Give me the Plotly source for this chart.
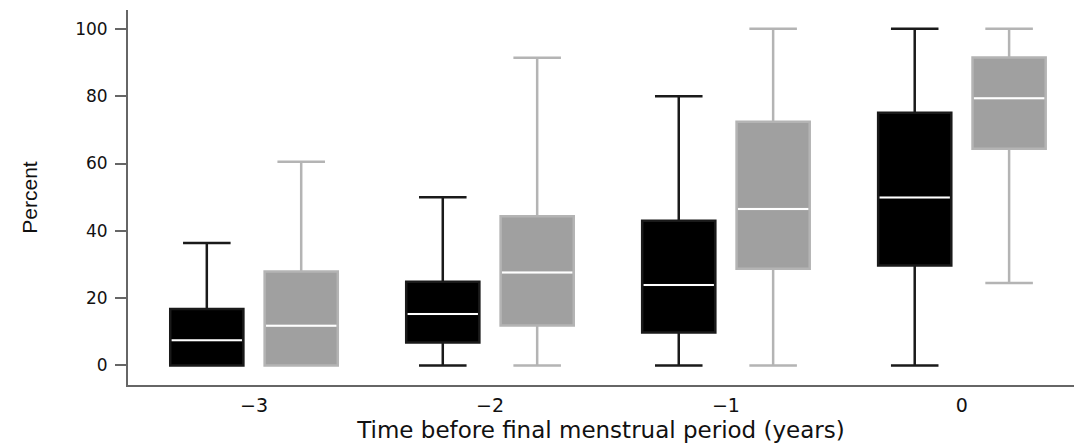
import plotly.graph_objects as go

# Years before the final menstrual period
years = ["\u22123", "\u22122", "\u22121", "0"]

# Summary statistics, series A (black)
a_low = [0, 0, 0, 0]
a_q1 = [0, 6.8, 9.8, 29.7]
a_med = [7.5, 15.3, 23.9, 49.9]
a_q3 = [16.8, 24.9, 43.0, 75.1]
a_high = [36.4, 50, 80, 100]

# Summary statistics, series B (grey)
b_low = [0, 0, 0, 24.5]
b_q1 = [0, 11.9, 28.7, 64.4]
b_med = [11.8, 27.6, 46.5, 79.4]
b_q3 = [27.9, 44.3, 72.4, 91.5]
b_high = [60.5, 91.4, 100, 100]

pos = list(range(len(years)))
offset = 0.2
box_w = 0.31

series = [
    (a_low, a_q1, a_med, a_q3, a_high, -offset, "#000000", "#1a1a1a"),
    (b_low, b_q1, b_med, b_q3, b_high, offset, "#a0a0a0", "#b4b4b4"),
]

fig = go.Figure()
for low, q1, med, q3, high, dx, fill, line in series:
    xs = [p + dx for p in pos]
    fig.add_trace(go.Box(
        x=xs, q1=q1, median=med, q3=q3, lowerfence=low, upperfence=high,
        width=box_w, whiskerwidth=0.65, fillcolor=fill,
        line=dict(color=line, width=2.5), boxpoints=False,
        hoverinfo="skip", showlegend=False,
    ))
    # white median bars drawn over each box
    mx, my = [], []
    for x, m in zip(xs, med):
        mx += [x - box_w / 2 + 0.006, x + box_w / 2 - 0.006, None]
        my += [m, m, None]
    fig.add_trace(go.Scatter(
        x=mx, y=my, mode="lines", line=dict(color="white", width=2),
        hoverinfo="skip", showlegend=False,
    ))

wide_font = "DejaVu Sans, Verdana, sans-serif"
fig.update_layout(
    width=1074, height=445,
    margin=dict(l=128, r=0, t=10, b=60),
    paper_bgcolor="white", plot_bgcolor="white",
    font=dict(family=wide_font, color="#111111", size=17),
    xaxis=dict(
        range=[-0.534, 3.475], tickvals=pos, ticktext=years,
        showgrid=False, zeroline=False, showline=True,
        linecolor="#666666", linewidth=2, ticks="", ticklabelstandoff=2,
        tickfont=dict(size=19),
        title=dict(text="Time before final menstrual period (years)",
                   font=dict(size=23), standoff=7),
    ),
    yaxis=dict(
        range=[-5.8, 105.6], tickvals=[0, 20, 40, 60, 80, 100],
        showgrid=False, zeroline=False, showline=True,
        linecolor="#666666", linewidth=2, ticks="outside", ticklen=11,
        tickcolor="#666666", tickwidth=1.5, ticklabelstandoff=4,
        tickfont=dict(size=17),
        title=dict(text="Percent",
                   font=dict(family="Liberation Sans, Arial, sans-serif", size=21),
                   standoff=32),
    ),
)

fig.write_html("out.html")
